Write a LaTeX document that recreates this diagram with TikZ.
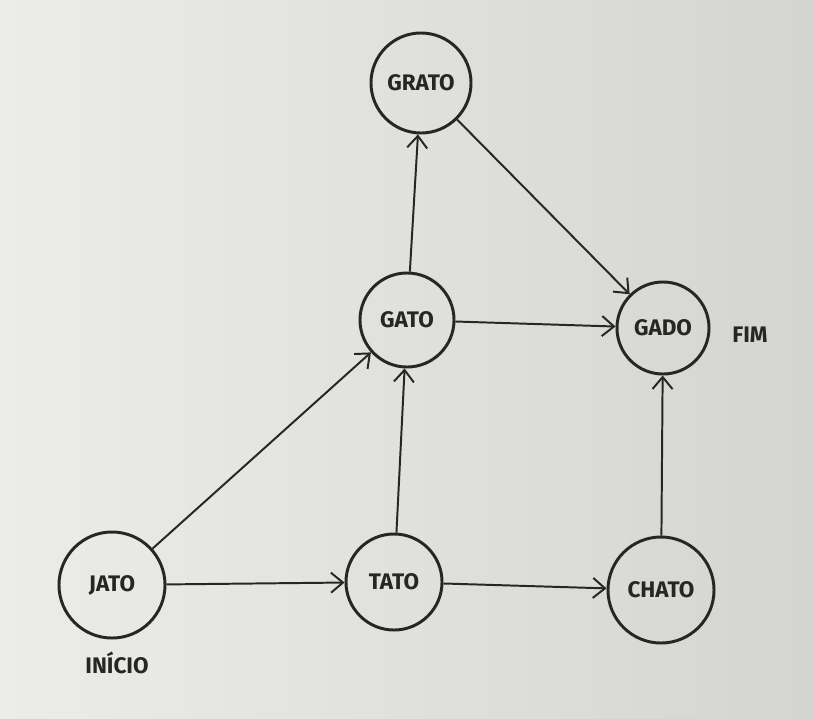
\documentclass[tikz,border=0pt]{standalone}
\usepackage{fontspec}
\setmainfont{Fira Sans}
\usetikzlibrary{arrows.meta}
\definecolor{ink}{RGB}{38,38,36}
\definecolor{paperlight}{RGB}{236,236,234}
\definecolor{paperdark}{RGB}{212,212,210}
\begin{document}
\begin{tikzpicture}[x=0.025cm,y=-0.025cm,
        word/.style={circle,draw=ink,line width=2.1pt,inner sep=0pt,text=ink,font=\bfseries\fontsize{16}{18}\selectfont},
        tag/.style={text=ink,font=\bfseries\fontsize{16}{18}\selectfont},
        >={Straight Barb[length=3mm,width=5mm]},
        every edge/.style={draw=ink,line width=1.4pt}]
    \useasboundingbox (0,0) rectangle (814,718);
    \fill[left color=paperlight,right color=paperdark] (0,0) rectangle (814,718);

    \node[word,minimum size=2.5cm] (grato) at (421,83) {GRATO};
    \node[word,minimum size=2.35cm] (gato) at (407,320) {GATO};
    \node[word,minimum size=2.3cm] (gado) at (663,328) {GADO};
    \node[word,minimum size=2.65cm] (jato) at (112,585) {JATO};
    \node[word,minimum size=2.4cm] (tato) at (394,582) {TATO};
    \node[word,minimum size=2.65cm] (chato) at (661,590) {CHATO};

    \node[tag] (fim) at (750,335) {FIM};
    \node[tag] (inicio) at (117,663) {INÍCIO};

    \draw[->] (gato) edge (grato) (grato) edge (gado) (gato) edge (gado);
    \draw[->] (jato) edge (gato) (jato) edge (tato) (tato) edge (gato);
    \draw[->] (tato) edge (chato) (chato) edge (gado);
\end{tikzpicture}
\end{document}
